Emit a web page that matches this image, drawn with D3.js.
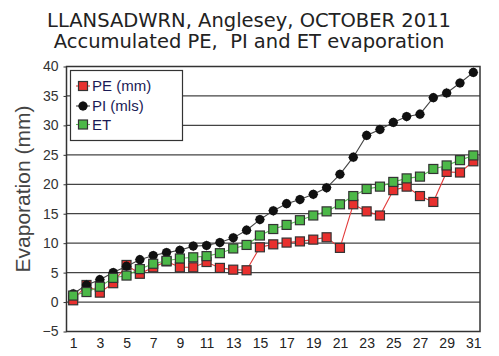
<!DOCTYPE html>
<html><head><meta charset="utf-8">
<script src="https://cdn.jsdelivr.net/npm/d3@7"></script>
<style>body{margin:0;background:#fff;}svg{display:block;}</style>
</head><body>
<script>
const days = d3.range(1, 32);
const PE = [0.3,2.9,1.6,3.2,6.3,4.8,5.9,6.9,5.9,5.9,6.8,5.8,5.5,5.4,9.3,9.8,10.1,10.3,10.6,11.0,9.2,16.6,15.4,14.7,19.0,19.6,18.0,17.0,22.1,22.0,23.9];
const PI = [1.4,2.9,3.8,5.0,6.1,7.2,7.9,8.4,8.8,9.5,9.6,10.1,10.9,12.2,14.0,15.5,16.7,17.4,18.3,19.4,21.7,24.6,28.3,29.3,30.5,31.5,31.9,34.7,35.5,37.2,39.0];
const ET = [1.1,1.7,2.6,4.1,4.5,5.6,6.5,7.0,7.4,7.6,7.8,8.3,9.1,9.7,11.3,12.4,13.1,13.9,14.7,15.4,16.6,18.0,19.2,19.6,20.4,21.0,21.3,22.6,23.2,24.1,24.9];
const yTicks = [-5,0,5,10,15,20,25,30,35,40];
const xTicks = [1,3,5,7,9,11,13,15,17,19,21,23,25,27,29,31];
const titleLines = ["LLANSADWRN, Anglesey, OCTOBER 2011", "Accumulated PE,  PI and ET evaporation"];
const legendNames = ["PE (mm)", "PI (mls)", "ET"];

const W = 499, H = 356;
const L = 66.5, R = 480, T = 66.5, B = 331.5;
const svg = d3.select("body").append("svg").attr("width", W).attr("height", H);
const x = d3.scaleLinear().domain([0.5, 31.5]).range([L, R]);
const y = d3.scaleLinear().domain([-5, 40]).range([B, T]);

// title
svg.append("g").selectAll("text").data(titleLines).join("text")
  .attr("x", 249).attr("y", (d,i) => 26.5 + i*21)
  .attr("text-anchor", "middle")
  .attr("font-family", "DejaVu Sans, Verdana, sans-serif")
  .attr("font-size", 19.5).attr("fill", "#222")
  .style("white-space", "pre")
  .text(d => d);

// gridlines
svg.append("g").selectAll("line").data(yTicks.filter(t => t > -5 && t < 40)).join("line")
  .attr("x1", L).attr("x2", R).attr("y1", d => y(d)).attr("y2", d => y(d))
  .attr("stroke", "#444").attr("stroke-width", 1.2);

// frame
svg.append("rect").attr("x", L).attr("y", T).attr("width", R-L).attr("height", B-T)
  .attr("fill", "none").attr("stroke", "#333").attr("stroke-width", 1.5);

// y axis
const yAxis = svg.append("g").attr("transform", `translate(${L},0)`)
  .call(d3.axisLeft(y).tickValues(yTicks).tickSize(3).tickPadding(5));
yAxis.select(".domain").remove();
yAxis.selectAll("line").attr("stroke", "#333");
yAxis.selectAll("text").attr("font-family", "Liberation Sans, Arial, sans-serif")
  .attr("font-size", 14).attr("fill", "#333");

// x axis
const xAxis = svg.append("g").attr("transform", `translate(0,${B})`)
  .call(d3.axisBottom(x).tickValues(xTicks).tickSize(0).tickPadding(7));
xAxis.select(".domain").remove();
xAxis.selectAll("text").attr("font-family", "Liberation Sans, Arial, sans-serif")
  .attr("font-size", 14).attr("fill", "#222");

// y label
svg.append("text").attr("transform", "translate(30,189) rotate(-90)")
  .attr("text-anchor", "middle")
  .attr("font-family", "Liberation Sans, Arial, sans-serif")
  .attr("font-size", 21).attr("fill", "#444")
  .text("Evaporation (mm)");

const line = d3.line().x((d,i) => x(days[i])).y(d => y(d));
const series = [
  {name: legendNames[0], vals: PE, color: "#e8302e", lc: "#e23b3b", shape: "square"},
  {name: legendNames[1], vals: PI, color: "#111", lc: "#444", shape: "circle"},
  {name: legendNames[2], vals: ET, color: "#4cb848", lc: "#5cbf55", shape: "square"}
];

function marker(g, s, cx, cy) {
  if (s.shape === "square") {
    g.append("rect").attr("x", cx-4.5).attr("y", cy-4.5).attr("width", 9).attr("height", 9)
      .attr("fill", s.color).attr("stroke", "#333").attr("stroke-width", 1.2);
  } else {
    g.append("circle").attr("cx", cx).attr("cy", cy).attr("r", 4.6).attr("fill", s.color);
    g.append("path").attr("d", "M0,-5.4L1.5,0L0,5.4L-1.5,0Z M-5.4,0L0,-1.5L5.4,0L0,1.5Z").attr("transform", `translate(${cx},${cy})`).attr("fill", s.color);
  }
}

series.forEach(s => {
  svg.append("path").datum(s.vals).attr("d", line).attr("fill", "none")
    .attr("stroke", s.lc).attr("stroke-width", 1.1);
  const g = svg.append("g");
  s.vals.forEach((v,i) => marker(g, s, x(days[i]), y(v)));
});

// legend
const lg = svg.append("g");
lg.append("rect").attr("x", 70.5).attr("y", 70.5).attr("width", 112).attr("height", 70)
  .attr("fill", "#fff").attr("stroke", "#333").attr("stroke-width", 1.2);
const lys = [86, 106, 124.5];
series.forEach((s,i) => {
  const cy = lys[i];
  lg.append("line").attr("x1", 76).attr("x2", 90).attr("y1", cy).attr("y2", cy)
    .attr("stroke", s.lc).attr("stroke-width", 1.1);
  marker(lg, s, 83, cy);
  lg.append("text").attr("x", 92).attr("y", cy + 5)
    .attr("font-family", "Liberation Sans, Arial, sans-serif").attr("font-size", 15)
    .attr("fill", "#1a1a55").text(s.name);
});
</script>
</body></html>
